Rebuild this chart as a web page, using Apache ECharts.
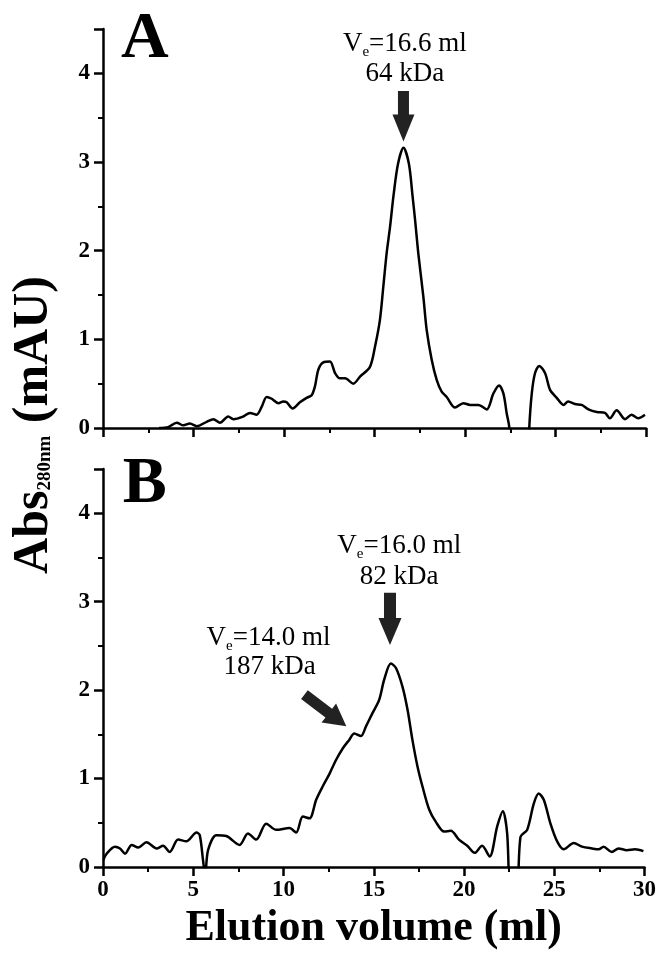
<!DOCTYPE html>
<html><head><meta charset="utf-8">
<script src="https://cdn.jsdelivr.net/npm/echarts@6/dist/echarts.min.js"></script>
<style>html,body{margin:0;padding:0;background:#fff}#c{width:659px;height:958px}</style>
</head><body><div id="c"></div>
<script>
// ---- data ----
const volA = [3.1,3.6,4.07,4.44,4.8,5.18,5.73,6.1,6.46,6.92,7.2,7.75,8.12,8.49,8.77,9.04,9.32,9.69,9.96,10.15,10.48,10.88,11.25,11.53,11.71,11.9,12.17,12.54,12.82,13.09,13.37,13.83,14.2,14.75,15.03,15.3,15.49,15.67,15.86,16.05,16.3,16.6,16.9,17.1,17.24,17.42,17.7,17.88,18.16,18.44,18.71,18.99,19.45,19.91,20.28,20.74,21.2,21.57,21.88,22.12,22.3,22.45,22.6,23.4,23.55,23.69,23.87,24.1,24.42,24.7,25.07,25.44,25.7,26.08,26.45,26.82,27.28,27.73,28.0,28.38,28.84,29.2,29.57,29.94];
const absA = [0.0,0.01,0.06,0.03,0.05,0.02,0.07,0.10,0.06,0.13,0.10,0.13,0.17,0.15,0.24,0.35,0.33,0.28,0.30,0.29,0.22,0.29,0.34,0.37,0.47,0.66,0.74,0.75,0.62,0.56,0.56,0.50,0.58,0.69,0.92,1.22,1.60,1.97,2.27,2.62,2.98,3.16,2.98,2.62,2.35,1.97,1.48,1.11,0.77,0.54,0.41,0.35,0.23,0.28,0.26,0.26,0.21,0.39,0.48,0.39,0.17,0.0,-0.8,-0.8,0.0,0.39,0.62,0.70,0.62,0.43,0.34,0.26,0.30,0.27,0.26,0.21,0.18,0.17,0.11,0.20,0.10,0.15,0.11,0.15];
const volB = [0.02,0.2,0.66,0.94,1.22,1.59,1.95,2.41,2.97,3.33,3.7,4.16,4.62,5.18,5.36,5.54,5.66,5.82,6.28,6.83,7.57,8.03,8.49,9.04,9.6,10.33,10.7,11.07,11.44,11.81,12.17,12.54,12.91,13.28,13.65,13.92,14.29,14.57,14.93,15.3,15.58,15.95,16.23,16.59,16.87,17.14,17.42,17.7,18.07,18.44,18.9,19.27,19.72,20.18,20.59,21.0,21.42,21.84,22.15,22.39,22.6,22.9,23.13,23.5,23.87,24.14,24.42,24.79,25.16,25.52,26.08,26.54,27.09,27.46,27.73,28.19,28.56,29.02,29.48,29.94];
const absB = [0.08,0.15,0.23,0.21,0.15,0.25,0.22,0.28,0.21,0.24,0.17,0.31,0.29,0.39,0.36,0.08,-0.1,0.19,0.36,0.35,0.25,0.38,0.31,0.49,0.42,0.44,0.39,0.57,0.55,0.76,0.91,1.05,1.21,1.34,1.44,1.51,1.48,1.59,1.74,1.89,2.12,2.30,2.25,2.04,1.78,1.44,1.14,0.91,0.65,0.51,0.40,0.41,0.31,0.24,0.16,0.24,0.12,0.46,0.63,0.38,-0.4,-0.4,0.34,0.42,0.72,0.83,0.76,0.49,0.29,0.20,0.27,0.23,0.21,0.20,0.23,0.17,0.21,0.19,0.20,0.18];
const xTickLabels = [0,5,10,15,20,25,30];
const yTickLabels = [0,1,2,3,4];
const panelLetters = ['A','B'];
const annoA = {line1:'16.6 ml', line2:'64 kDa'};
const annoB1 = {line1:'16.0 ml', line2:'82 kDa'};
const annoB2 = {line1:'14.0 ml', line2:'187 kDa'};

// ---- chart ----
const FONT = "'Liberation Serif','Times New Roman',serif";
const chart = echarts.init(document.getElementById('c'), null, {renderer:'canvas'});
function xAxisCfg(idx, showLabels){
  return {type:'value', gridIndex:idx, min:xTickLabels[0], max:xTickLabels[xTickLabels.length-1], interval:5,
    axisLine:{show:true, onZero:false, lineStyle:{color:'#000', width:2.5}},
    axisTick:{show:true, inside:false, length:9, lineStyle:{color:'#000', width:2.5}},
    minorTick:{show:true, splitNumber:2, length:5, lineStyle:{color:'#000', width:2}},
    splitLine:{show:false}, minorSplitLine:{show:false},
    axisLabel:{show:showLabels, fontFamily:FONT, fontWeight:'bold', fontSize:23, color:'#000', margin:12},
    name: showLabels ? 'Elution volume (ml)' : '', nameLocation:'middle', nameGap:40,
    nameTextStyle:{fontFamily:FONT, fontWeight:'bold', fontSize:44, color:'#000'}
  };
}
function yAxisCfg(idx){
  return {type:'value', gridIndex:idx, min:0, max:4.5, interval:1,
    axisLine:{show:true, onZero:false, lineStyle:{color:'#000', width:2.5}},
    axisTick:{show:true, inside:false, length:9, lineStyle:{color:'#000', width:2.5}},
    minorTick:{show:true, splitNumber:2, length:5, lineStyle:{color:'#000', width:2}},
    splitLine:{show:false}, minorSplitLine:{show:false},
    axisLabel:{fontFamily:FONT, fontWeight:'bold', fontSize:23, color:'#000', margin:13,
      showMaxLabel:false, formatter:v => yTickLabels.includes(v) ? String(v) : ''}
  };
}
const pairs = (xs, ys) => xs.map((x,i)=>[x, ys[i]]);
chart.setOption({
  animation:false,
  backgroundColor:'#fff',
  grid:[
    {left:103, right:13, top:29, height:399},
    {left:103, right:13, top:469, height:398}
  ],
  xAxis:[xAxisCfg(0,false), xAxisCfg(1,true)],
  yAxis:[yAxisCfg(0), yAxisCfg(1)],
  series:[
    {type:'line', xAxisIndex:0, yAxisIndex:0, data:pairs(volA,absA), showSymbol:false, symbol:'none',
      smooth:0.3, clip:true, lineStyle:{color:'#000', width:2.5}},
    {type:'line', xAxisIndex:1, yAxisIndex:1, data:pairs(volB,absB), showSymbol:false, symbol:'none',
      smooth:0.3, clip:true, lineStyle:{color:'#000', width:2.5}}
  ]
});

// ---- annotations (positioned through the axes) ----
const P = (g, x, y) => chart.convertToPixel({gridIndex:g}, [x, y]);
function arrow(tail, tip, shaftW, headW, headL, color){
  const dx = tip[0]-tail[0], dy = tip[1]-tail[1];
  const L = Math.hypot(dx,dy), ux = dx/L, uy = dy/L, nx = -uy, ny = ux;
  const b = [tip[0]-ux*headL, tip[1]-uy*headL];
  const pts = [
    [tail[0]+nx*shaftW/2, tail[1]+ny*shaftW/2],
    [b[0]+nx*shaftW/2, b[1]+ny*shaftW/2],
    [b[0]+nx*headW/2, b[1]+ny*headW/2],
    tip,
    [b[0]-nx*headW/2, b[1]-ny*headW/2],
    [b[0]-nx*shaftW/2, b[1]-ny*shaftW/2],
    [tail[0]-nx*shaftW/2, tail[1]-ny*shaftW/2]
  ];
  return {type:'polygon', shape:{points:pts}, style:{fill:color}, z:10};
}
function veText(g, x, yBase, val){
  const p = P(g, x, yBase);
  return {type:'text', x:p[0], y:p[1]+8, z:10, style:{
    text:'{m|V}{s|e}{m|=' + val + '}', align:'center', verticalAlign:'bottom',
    rich:{
      m:{fontFamily:FONT, fontSize:27, color:'#000', lineHeight:32},
      s:{fontFamily:FONT, fontSize:15, color:'#000', lineHeight:15, verticalAlign:'bottom'}
    }}};
}
function plainText(g, x, yBase, txt, fs, weight, align){
  const p = P(g, x, yBase);
  return {type:'text', x:p[0], y:p[1]-0.3*fs, z:10, style:{
    text:txt, fontFamily:FONT, fontSize:fs, fontWeight:weight, fill:'#000',
    align:align, verticalAlign:'middle'}};
}
const ARROW = '#222';
const g = [];
// panel letters
g.push(plainText(0, 0.99, 4.15, panelLetters[0], 66, 'bold', 'left'));
g.push(plainText(1, 1.1, 4.10, panelLetters[1], 66, 'bold', 'left'));
// panel A
g.push(veText(0, 16.68, 4.24, annoA.line1));
g.push(plainText(0, 16.68, 3.905, annoA.line2, 27, 'normal', 'center'));
g.push(arrow(P(0,16.6,3.80), P(0,16.6,3.23), 11, 22, 27, ARROW));
// panel B
g.push(veText(1, 16.41, 3.545, annoB1.line1));
g.push(plainText(1, 16.41, 3.19, annoB1.line2, 27, 'normal', 'center'));
g.push(arrow(P(1,15.9,3.10), P(1,15.9,2.51), 12, 23, 27, ARROW));
g.push(veText(1, 9.17, 2.50, annoB2.line1));
g.push(plainText(1, 9.23, 2.17, annoB2.line2, 27, 'normal', 'center'));
g.push(arrow(P(1,11.16,1.95), P(1,13.48,1.59), 11, 24, 22, ARROW));
// y-axis title spanning both panels
g.push({type:'text', x:34, y:425, rotation:Math.PI/2, z:10, style:{
  text:'{m|Abs}{s|280nm}{m| (mAU)}', align:'center', verticalAlign:'middle',
  rich:{
    m:{fontFamily:FONT, fontSize:50, fontWeight:'bold', color:'#000', lineHeight:50},
    s:{fontFamily:FONT, fontSize:19, fontWeight:'bold', color:'#000', padding:[0,0,4,0], verticalAlign:'bottom'}
  }}});
chart.setOption({graphic:g});
</script></body></html>
